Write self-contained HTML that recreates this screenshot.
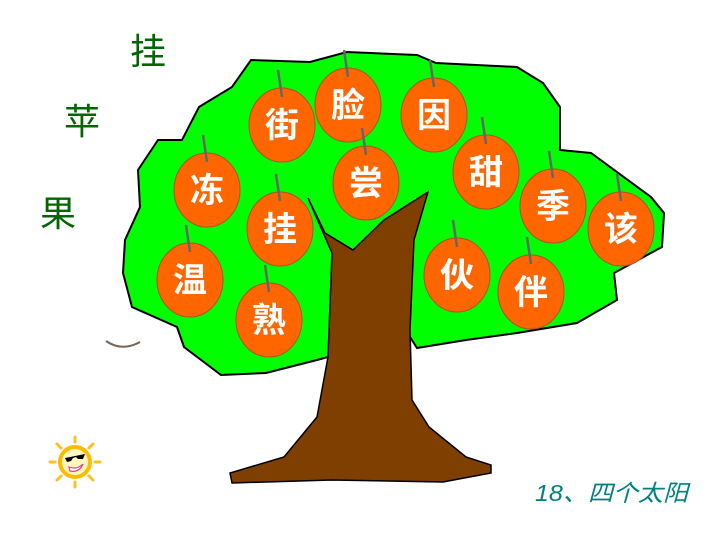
<!DOCTYPE html>
<html><head><meta charset="utf-8"><style>
html,body{margin:0;padding:0;background:#fff}
svg{display:block}
.f{font-family:"Liberation Sans","Noto Sans CJK SC",sans-serif}
</style></head><body>
<svg width="720" height="540" viewBox="0 0 720 540">
<g class="f" fill="#006600" font-size="36">
<text x="130" y="64">挂</text>
<text x="64" y="134">苹</text>
<text x="40" y="226">果</text>
</g>
<path fill="#00ff00" stroke="#000" stroke-width="2" d="M251,60 L310,62 L347,52 L417,55 L436,63 L517,67 L543,83 L560,107 L560,150 L591,153 L651,197 L664,213 L662,247 L614,273 L617,300 L577,323 L517,333 L466,340 L417,348 L410,337 L328,357 L317,360 L266,373 L221,375 L184,347 L177,327 L132,307 L123,273 L125,240 L140,207 L138,170 L158,140 L182,140 L199,107 L232,87 Z"/>
<path fill="#7f3f00" stroke="#000" stroke-width="1.5" d="M308,198 L325,233 L353,250 L384,220 L428,192 L414,240 L410,330 L412,400 L429,427 L466,457 L491,465 L491,473 L443,482 L332,480 L232,483 L230,473 L284,457 L317,417 L328,357 L332,253 Z"/>
<path d="M106,341 Q122,352 140,342" fill="none" stroke="#776655" stroke-width="2"/>
<g id="fruits"></g>
<g transform="translate(75,462)">
<circle r="15" fill="#fff6c0" stroke="#ffbb00" stroke-width="4"/>
<g stroke="#ffc020" stroke-width="3" stroke-linecap="round">
<line x1="0" y1="-20" x2="0" y2="-25"/><line x1="0" y1="20" x2="0" y2="25"/>
<line x1="-20" y1="0" x2="-25" y2="0"/><line x1="20" y1="0" x2="25" y2="0"/>
<line x1="14" y1="-14" x2="18" y2="-18"/><line x1="-14" y1="-14" x2="-18" y2="-18"/>
<line x1="14" y1="14" x2="18" y2="18"/><line x1="-14" y1="14" x2="-18" y2="18"/>
</g>
<path d="M-10,-4 L10,-8 L8,-3 L3,-3 L1,-5 L-2,-4 L-4,-1 L-8,0 Z" fill="#000"/>
<path d="M-6,5 Q2,8 8,2 Q4,11 -5,9 Z" fill="#fff" stroke="#e04080" stroke-width="1.2"/>
</g>
<text class="f" x="535" y="501" font-size="23" font-style="italic" fill="#008080" textLength="153" lengthAdjust="spacingAndGlyphs">18、四个太阳</text>
</svg>
<script>
const chars=["街","脸","因","甜","冻","尝","季","该","挂","伙","伴","温","熟"];
const cx=[282,348,434,486,207,366,553,621,280,457,531,190,269];
const cy=[125,105,115,172,190,183,206,229,229,275,292,280,320];
const g=document.getElementById('fruits');
const ns='http://www.w3.org/2000/svg';
for(let i=0;i<chars.length;i++){
 const grp=document.createElementNS(ns,'g');
 
 
 const e=document.createElementNS(ns,'ellipse');
 e.setAttribute('cx',cx[i]);e.setAttribute('cy',cy[i]);e.setAttribute('rx',33);e.setAttribute('ry',37);
 e.setAttribute('fill','#ff6600');e.setAttribute('stroke','#b05020');e.setAttribute('stroke-width','1');
 grp.appendChild(e);
 const s=document.createElementNS(ns,'line');
 s.setAttribute('x1',cx[i]-4);s.setAttribute('y1',cy[i]-55);s.setAttribute('x2',cx[i]);s.setAttribute('y2',cy[i]-28);
 s.setAttribute('stroke','#666');s.setAttribute('stroke-width','2.5');
 grp.appendChild(s);
 const t=document.createElementNS(ns,'text');
 t.setAttribute('x',cx[i]);t.setAttribute('y',cy[i]+12);t.setAttribute('text-anchor','middle');
 t.setAttribute('font-size','34');t.setAttribute('font-weight','bold');t.setAttribute('fill','#fff');
 t.setAttribute('class','f');
 t.textContent=chars[i];
 grp.appendChild(t);
 g.appendChild(grp);
}
</script>
</body></html>
